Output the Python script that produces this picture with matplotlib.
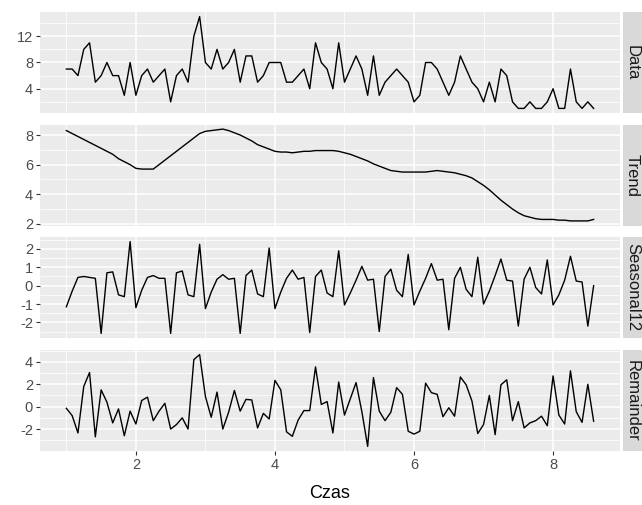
import matplotlib
matplotlib.use("Agg")
import matplotlib.pyplot as plt
import numpy as np
from matplotlib.ticker import MultipleLocator, FixedLocator

plt.rcParams['font.family'] = ['Liberation Sans', 'DejaVu Sans']

start_time = 1.0
freq = 12

data = [7, 7, 6, 10, 11, 5, 6, 8, 6, 6, 3, 8,
        3, 6, 7, 5, 6, 7, 2, 6, 7, 5, 12, 15,
        8, 7, 10, 7, 8, 10, 5, 9, 9, 5, 6, 8,
        8, 8, 5, 5, 6, 7, 4, 11, 8, 7, 4, 11,
        5, 7, 9, 7, 3, 9, 3, 5, 6, 7, 6, 5,
        2, 3, 8, 8, 7, 5, 3, 5, 9, 7, 5, 4,
        2, 5, 2, 7, 6, 2, 1, 1, 2, 1, 1, 2,
        4, 1, 1, 7, 2, 1, 2, 1]

trend = [8.3, 8.1, 7.9, 7.7, 7.5, 7.3, 7.1, 6.9, 6.7, 6.4, 6.2, 6.0,
         5.75, 5.7, 5.7, 5.7, 6.0, 6.3, 6.6, 6.9, 7.2, 7.5, 7.8, 8.1,
         8.25, 8.3, 8.35, 8.4, 8.3, 8.15, 8.0, 7.8, 7.6, 7.35, 7.2, 7.05,
         6.9, 6.85, 6.85, 6.8, 6.85, 6.9, 6.9, 6.95, 6.95, 6.95, 6.95, 6.9,
         6.8, 6.7, 6.55, 6.4, 6.25, 6.05, 5.9, 5.75, 5.6, 5.55, 5.5, 5.5,
         5.5, 5.5, 5.5, 5.55, 5.6, 5.55, 5.5, 5.45, 5.35, 5.25, 5.1, 4.85,
         4.6, 4.3, 3.95, 3.6, 3.3, 3.0, 2.75, 2.55, 2.45, 2.35, 2.3, 2.3,
         2.3, 2.25, 2.25, 2.2, 2.2, 2.2, 2.2, 2.3]

seasonal = [-1.15, -0.3, 0.45, 0.5, 0.45, 0.4, -2.6, 0.7, 0.75, -0.5, -0.6, 2.4,
            -1.2, -0.25, 0.45, 0.55, 0.4, 0.4, -2.6, 0.7, 0.8, -0.5, -0.6, 2.25,
            -1.25, -0.35, 0.35, 0.6, 0.35, 0.4, -2.6, 0.55, 0.85, -0.45, -0.6, 2.05,
            -1.25, -0.35, 0.4, 0.85, 0.35, 0.45, -2.55, 0.5, 0.85, -0.4, -0.6, 1.9,
            -1.05, -0.4, 0.3, 1.05, 0.3, 0.35, -2.5, 0.5, 0.9, -0.25, -0.6, 1.7,
            -1.05, -0.3, 0.4, 1.2, 0.3, 0.35, -2.4, 0.4, 1.0, -0.2, -0.6, 1.55,
            -1.0, -0.3, 0.55, 1.45, 0.3, 0.25, -2.2, 0.35, 1.0, -0.1, -0.45, 1.4,
            -1.05, -0.5, 0.3, 1.6, 0.25, 0.2, -2.2, 0.0]

remainder = [-0.15, -0.8, -2.35, 1.8, 3.05, -2.7, 1.5, 0.4, -1.45, -0.2, -2.6, -0.4,
             -1.55, 0.55, 0.85, -1.25, -0.4, 0.3, -2.0, -1.6, -1.0, -2.0, 4.2, 4.65,
             0.9, -0.95, 1.3, -2.0, -0.5, 1.45, -0.4, 0.65, 0.6, -1.9, -0.6, -1.1,
             2.35, 1.5, -2.25, -2.65, -1.2, -0.35, -0.35, 3.55, 0.2, 0.45, -2.35, 2.2,
             -0.75, 0.7, 2.15, -0.45, -3.55, 2.6, -0.4, -1.25, -0.5, 1.7, 1.1, -2.2,
             -2.45, -2.2, 2.1, 1.25, 1.1, -0.9, -0.1, -0.85, 2.65, 1.95, 0.5, -2.4,
             -1.6, 1.0, -2.5, 1.95, 2.4, -1.25, 0.45, -1.9, -1.45, -1.25, -0.85, -1.7,
             2.75, -0.75, -1.55, 3.2, -0.45, -1.4, 2.0, -1.3]

panel_names = ["Data", "Trend", "Seasonal12", "Remainder"]
series = [data, trend, seasonal, remainder]
y_major = [[4, 8, 12], [2, 4, 6, 8], [-2, -1, 0, 1, 2], [-2, 0, 2, 4]]
x_major = [2, 4, 6, 8]
x_label = "Czas"

W, H = 642, 505
fig = plt.figure(figsize=(W / 100, H / 100), dpi=100)
fig.patch.set_facecolor("white")

left, right = 40, 620
panel_h = 101
tops = [12, 124.5, 237, 350]
strip_w = 20
strip_gap = 2.5

t = start_time + np.arange(len(data)) / freq
xmin, xmax = t.min(), t.max()
xpad = (xmax - xmin) * 0.05

for i, (name, vals, ym) in enumerate(zip(panel_names, series, y_major)):
    top = tops[i]
    ax = fig.add_axes([left / W, 1 - (top + panel_h) / H, (right - left) / W, panel_h / H])
    ax.set_facecolor("#EBEBEB")
    v = np.array(vals, dtype=float)
    ypad = (v.max() - v.min()) * 0.05
    ax.set_xlim(xmin - xpad, xmax + xpad)
    ax.set_ylim(v.min() - ypad, v.max() + ypad)
    step = ym[1] - ym[0]
    ax.yaxis.set_major_locator(FixedLocator(ym))
    ax.yaxis.set_minor_locator(MultipleLocator(step / 2.0))
    ax.xaxis.set_major_locator(FixedLocator(x_major))
    ax.xaxis.set_minor_locator(FixedLocator([1, 3, 5, 7, 9]))
    ax.grid(which="major", color="white", linewidth=1.1)
    ax.grid(which="minor", color="white", linewidth=0.55)
    ax.set_axisbelow(True)
    for s in ax.spines.values():
        s.set_visible(False)
    ax.plot(t, v, color="black", linewidth=1.0)
    ax.tick_params(axis="y", which="major", length=3, width=0.8, color="#333333",
                   labelsize=10.5, labelcolor="#4D4D4D", pad=2)
    ax.tick_params(which="minor", length=0)
    if i < 3:
        ax.tick_params(axis="x", which="major", length=0, labelbottom=False)
    else:
        ax.tick_params(axis="x", which="major", length=3, width=0.8, color="#333333",
                       labelsize=10.5, labelcolor="#4D4D4D", pad=2)
    ax.set_yticklabels(["%g" % y for y in ym])

    sax = fig.add_axes([(right + strip_gap) / W, 1 - (top + panel_h) / H, strip_w / W, panel_h / H])
    sax.set_facecolor("#D9D9D9")
    sax.set_xticks([])
    sax.set_yticks([])
    for s in sax.spines.values():
        s.set_visible(False)
    sax.text(0.5, 0.5, name, rotation=-90, ha="center", va="center",
             fontsize=12, color="#1A1A1A", transform=sax.transAxes)

fig.text((left + right) / 2 / W, 1 - 493 / H, x_label, ha="center", va="center",
         fontsize=13, color="black")

fig.savefig("out.png", dpi=100)
